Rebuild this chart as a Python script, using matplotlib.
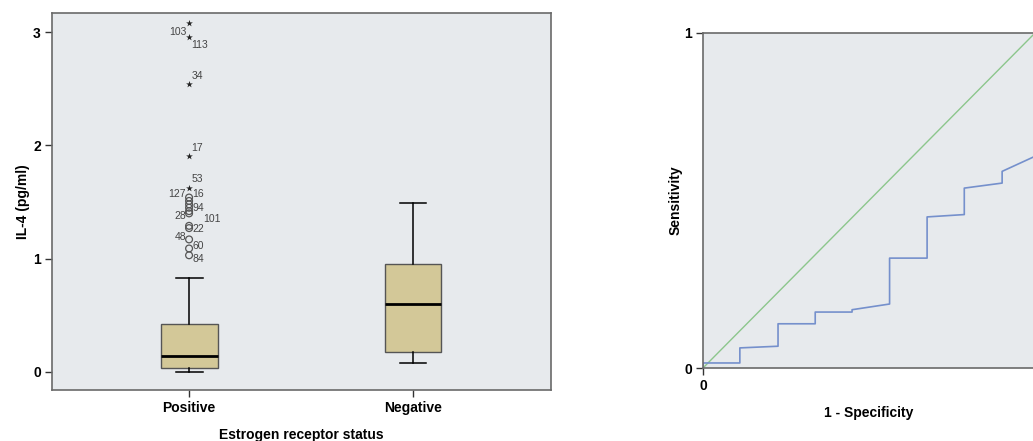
import matplotlib
matplotlib.use("Agg")
import matplotlib.pyplot as plt

plt.rcParams['font.family'] = ['Liberation Sans', 'DejaVu Sans']

# ---- Data: box plot ----
categories = ["Positive", "Negative"]
q1 = [0.035, 0.177]
medians = [0.14, 0.60]
q3 = [0.42, 0.95]
whisker_low = [0.0, 0.077]
whisker_high = [0.83, 1.49]

# outliers of the "Positive" group
extreme_values = [3.08, 2.96, 2.54, 1.91, 1.62]          # stars
outlier_values = [1.54, 1.51, 1.48, 1.45, 1.42, 1.40,     # circles
                  1.29, 1.27, 1.17, 1.09, 1.03]
case_labels = ["103", "113", "34", "17", "53", "127", "16", "94",
               "28", "101", "22", "48", "60", "84"]
case_label_y = [3.00, 2.89, 2.61, 1.98, 1.70, 1.57, 1.57, 1.45,
                1.38, 1.35, 1.26, 1.19, 1.11, 1.00]
case_label_dx = [-11, 11, 8, 8, 8, -12, 9, 9, -9, 23, 9, -9, 9, 9]

# ---- Data: ROC curve ----
fpr = [0, 0, 0.111, 0.111, 0.226, 0.226, 0.338, 0.338, 0.449, 0.449,
       0.562, 0.562, 0.675, 0.675, 0.787, 0.787, 0.901, 0.901, 1.0, 1.0]
tpr = [0, 0.015, 0.015, 0.060, 0.065, 0.132, 0.132, 0.167, 0.167, 0.174,
       0.191, 0.328, 0.328, 0.451, 0.458, 0.537, 0.552, 0.587, 0.632, 1.0]

W, H = 1033, 441
fig = plt.figure(figsize=(W / 100, H / 100), dpi=100)

bg = '#e7eaed'
spine_c = '#6a6a6a'
box_c = '#d3c898'

def px_axes(l, t, r, b):
    return [l / W, 1 - b / H, (r - l) / W, (b - t) / H]

# ---------------- Left: box plot ----------------
ax = fig.add_axes(px_axes(52, 13, 551, 390))
ax.set_facecolor(bg)
stats = []
for i, c in enumerate(categories):
    stats.append(dict(label=c, med=medians[i], q1=q1[i], q3=q3[i],
                      whislo=whisker_low[i], whishi=whisker_high[i], fliers=[]))
pos = [1, 2]
ax.bxp(stats, positions=pos, widths=0.254, patch_artist=True, showfliers=False,
       boxprops=dict(facecolor=box_c, edgecolor='#555555', linewidth=1.0),
       medianprops=dict(color='black', linewidth=2.0),
       whiskerprops=dict(color='black', linewidth=1.1),
       capprops=dict(color='black', linewidth=1.1),
       capwidths=0.12)

ax.scatter([1] * len(extreme_values), extreme_values, marker='*', s=26,
           color='#222222', zorder=4, linewidths=0)
ax.scatter([1] * len(outlier_values), outlier_values, marker='o', s=24,
           facecolors='none', edgecolors='#555555', linewidths=0.9, zorder=4)
for t, yv, dx in zip(case_labels, case_label_y, case_label_dx):
    ax.annotate(t, xy=(1, yv), xytext=(dx * 0.72, 0), textcoords='offset points',
                ha='center', va='center', fontsize=7.5, color='#444444')

ax.set_xlim(0.388, 2.616)
ax.set_ylim(-0.16, 3.17)
ax.set_yticks([0, 1, 2, 3])
ax.set_yticklabels(['0', '1', '2', '3'], fontweight='bold', fontsize=10)
ax.set_xticks(pos)
ax.set_xticklabels(categories, fontweight='bold', fontsize=10)
ax.tick_params(axis='both', direction='out', length=5, width=1, color='#333333', pad=3)
ax.set_ylabel('IL-4 (pg/ml)', fontweight='bold', fontsize=10, labelpad=2)
ax.set_xlabel('Estrogen receptor status', fontweight='bold', fontsize=10, labelpad=9)
for s in ax.spines.values():
    s.set_color(spine_c)
    s.set_linewidth(1.2)

# ---------------- Right: ROC ----------------
ax2 = fig.add_axes(px_axes(703, 33, 1035, 368))
ax2.set_facecolor(bg)
ax2.plot([0, 1], [0, 1], color='#8cc68c', linewidth=1.0)
ax2.plot(fpr, tpr, color='#7590cc', linewidth=1.2)
ax2.set_xlim(0, 1)
ax2.set_ylim(0, 1)
ax2.set_yticks([0, 1])
ax2.set_yticklabels(['0', '1'], fontweight='bold', fontsize=10)
ax2.set_xticks([0])
ax2.set_xticklabels(['0'], fontweight='bold', fontsize=10)
ax2.tick_params(axis='both', direction='out', length=5, width=1, color='#333333', pad=3)
ax2.set_ylabel('Sensitivity', fontweight='bold', fontsize=10, labelpad=1)
ax2.set_xlabel('1 - Specificity', fontweight='bold', fontsize=10, labelpad=9)
for s in ax2.spines.values():
    s.set_color(spine_c)
    s.set_linewidth(1.2)

fig.savefig('out.png', dpi=100)
